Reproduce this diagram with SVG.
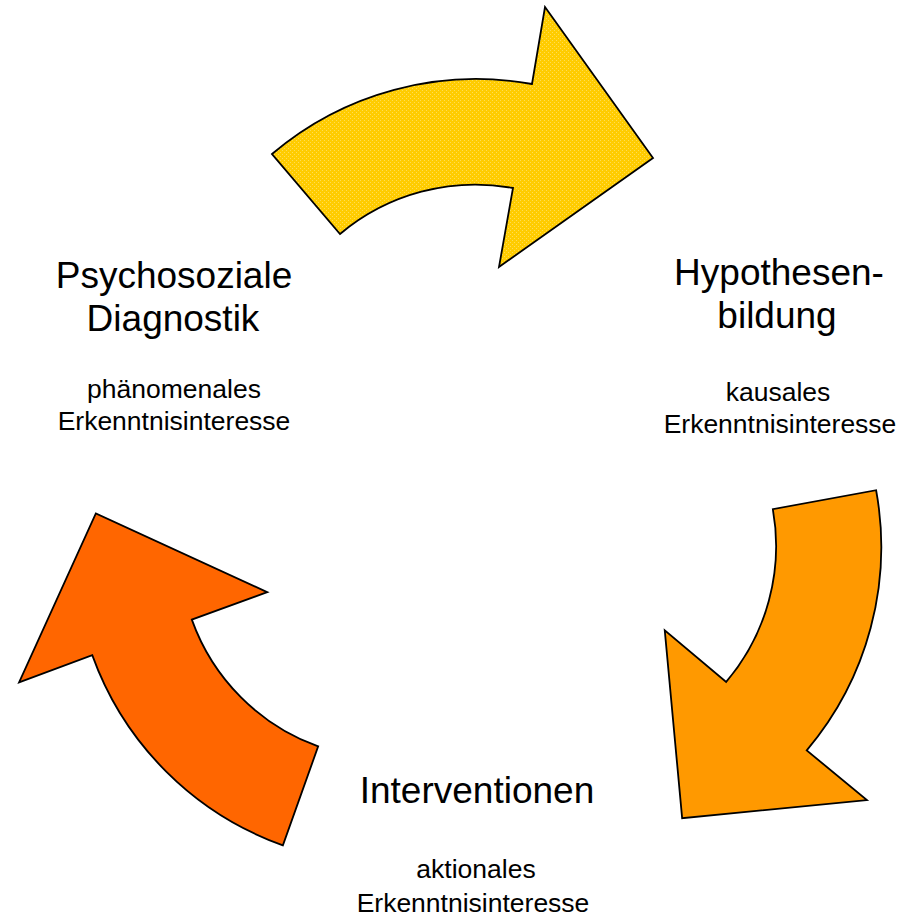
<svg xmlns="http://www.w3.org/2000/svg" xmlns:xlink="http://www.w3.org/1999/xlink" width="901" height="920" viewBox="0 0 901 920">
  <style>
    .arrow { stroke: #000; stroke-width: 1.8; stroke-linejoin: miter; }
    .big { font-family: "Liberation Sans", Arial, sans-serif; font-size: 37px; fill: #000; text-anchor: middle; }
    .small { font-family: "Liberation Sans", Arial, sans-serif; font-size: 26.5px; fill: #000; text-anchor: middle; }
  </style>
  <defs>
    <pattern id="dots" width="4" height="4" patternUnits="userSpaceOnUse">
      <rect width="4" height="4" fill="#FFCC00"/>
      <rect x="0" y="0" width="1" height="1" fill="#FFDD55"/>
      <rect x="2" y="2" width="1" height="1" fill="#FFDD55"/>
    </pattern>
    <path id="arc-arrow" d="M 272,154 A 315 315 0 0 1 532,84 L 545,7 L 653,158 L 499,267 L 513,188 A 210 210 0 0 0 340,234 Z"/>
  </defs>
  <rect width="901" height="920" fill="#fff"/>
  <g id="connectors">
    <use id="arrow-yellow" class="arrow" xlink:href="#arc-arrow" href="#arc-arrow" fill="url(#dots)"/>
    <use id="arrow-orange" class="arrow" xlink:href="#arc-arrow" href="#arc-arrow" fill="#FF9900" transform="rotate(120 477 496.5)"/>
    <use id="arrow-red" class="arrow" xlink:href="#arc-arrow" href="#arc-arrow" fill="#FF6600" transform="rotate(240 477 496.5)"/>
  </g>
  <g id="node-diagnostik">
    <text class="big" x="174" y="288">Psychosoziale</text>
    <text class="big" x="173" y="331">Diagnostik</text>
    <text class="small" x="174" y="398">phänomenales</text>
    <text class="small" x="174" y="430">Erkenntnisinteresse</text>
  </g>
  <g id="node-hypothesen">
    <text class="big" x="779" y="285">Hypothesen-</text>
    <text class="big" x="777" y="328">bildung</text>
    <text class="small" x="778" y="401">kausales</text>
    <text class="small" x="780" y="433">Erkenntnisinteresse</text>
  </g>
  <g id="node-interventionen">
    <text class="big" x="477" y="803">Interventionen</text>
    <text class="small" x="476" y="878">aktionales</text>
    <text class="small" x="473" y="912">Erkenntnisinteresse</text>
  </g>
</svg>
